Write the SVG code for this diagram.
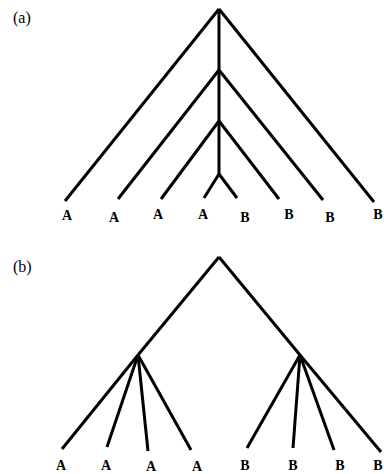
<svg xmlns="http://www.w3.org/2000/svg" width="384" height="474" viewBox="0 0 384 474">
<style>
.e{stroke:#000;stroke-width:3;fill:none;stroke-linecap:butt;stroke-linejoin:round}
.l{font-family:"Liberation Serif",serif;font-size:14px;font-weight:bold;text-anchor:middle;fill:#000}
.p{font-family:"Liberation Serif",serif;font-size:16px;fill:#000}
</style>
<rect width="384" height="474" fill="#fff"/>
<text class="p" x="13" y="23">(a)</text>
<g id="connectors-a" class="e">
<line x1="219" y1="9" x2="219" y2="174"/>
<line x1="219" y1="9" x2="65" y2="201"/>
<line x1="219" y1="9" x2="374" y2="202"/>
<line x1="219" y1="70" x2="118" y2="199"/>
<line x1="219" y1="70" x2="323" y2="200"/>
<line x1="219" y1="121" x2="161" y2="199"/>
<line x1="219" y1="121" x2="279" y2="199"/>
<line x1="219" y1="174" x2="204" y2="198"/>
<line x1="219" y1="174" x2="237" y2="198"/>
</g>
<g id="leaves-a">
<text class="l" x="67" y="220">A</text>
<text class="l" x="114" y="222">A</text>
<text class="l" x="158" y="219">A</text>
<text class="l" x="203" y="219">A</text>
<text class="l" x="245" y="222">B</text>
<text class="l" x="289" y="219">B</text>
<text class="l" x="330" y="222">B</text>
<text class="l" x="378" y="219">B</text>
</g>
<text class="p" x="13" y="272">(b)</text>
<g id="connectors-b" class="e">
<line x1="219" y1="257" x2="138" y2="355"/>
<line x1="219" y1="257" x2="300" y2="355"/>
<line x1="138" y1="355" x2="62" y2="449"/>
<line x1="138" y1="355" x2="107" y2="447"/>
<line x1="138" y1="355" x2="148" y2="451"/>
<line x1="138" y1="355" x2="191" y2="450"/>
<line x1="300" y1="355" x2="247" y2="448"/>
<line x1="300" y1="355" x2="293" y2="448"/>
<line x1="300" y1="355" x2="334" y2="450"/>
<line x1="300" y1="355" x2="381" y2="452"/>
</g>
<g id="leaves-b">
<text class="l" x="61" y="470">A</text>
<text class="l" x="106" y="470">A</text>
<text class="l" x="151" y="471">A</text>
<text class="l" x="197" y="471">A</text>
<text class="l" x="245" y="470">B</text>
<text class="l" x="293" y="470">B</text>
<text class="l" x="340" y="470">B</text>
<text class="l" x="378" y="470">B</text>
</g>
</svg>
